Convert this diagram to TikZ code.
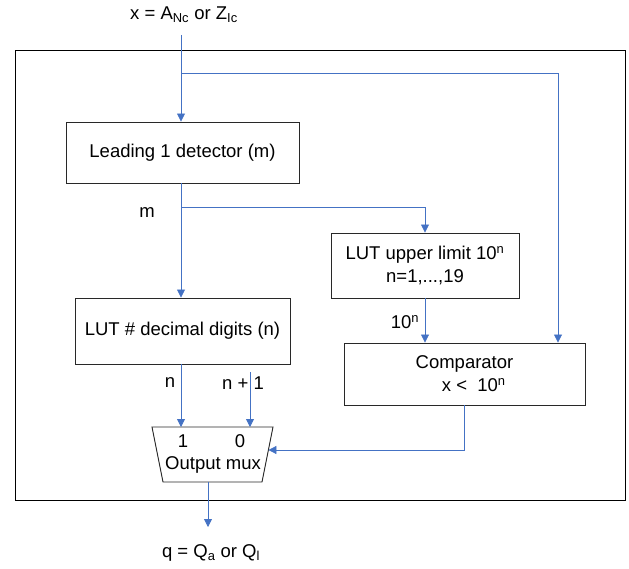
\documentclass[tikz,border=0pt]{standalone}
\usepackage{fontspec}
\setmainfont{Liberation Sans}
\usetikzlibrary{arrows.meta}

\definecolor{wire}{RGB}{68,114,196}
\tikzset{every picture/.style={line width=0.75pt}}
\tikzset{
  blk/.style={draw={rgb,255:red,40;green,40;blue,40},line width=0.9pt,align=center,inner sep=0pt},
  lbl/.style={align=center,inner sep=0pt},
  sig/.style={draw=wire,line width=0.8pt,-{Triangle[length=8pt,width=8pt]}}
}

\begin{document}
\begin{tikzpicture}[x=1pt,y=1pt,yscale=-1,xscale=1,font=\fontsize{18.5}{23}\selectfont]
		\useasboundingbox (0,0) rectangle (629,569);

		%outer frame
		\draw [line width=0.9pt] (15,50) rectangle (625,500);

		%blocks
		\node [blk,minimum width=233,minimum height=61] (lead) at (182.5,152.5) {Leading 1 detector (m)};
		\node [blk,minimum width=188,minimum height=65] (upper) at (425,265.5) {LUT upper limit 10\textsuperscript{n}\\n=1,...,19};
		\node [blk,minimum width=215,minimum height=66] (digits) at (182.5,331) {LUT \# decimal digits (n)};
		\node [blk,minimum width=241,minimum height=62] (cmp) at (464.5,374) {Comparator\\\quad x <\ \ 10\textsuperscript{n}};

		%output mux
		\coordinate (muxtl) at (152,427);
		\coordinate (muxtr) at (273,427);
		\coordinate (muxbr) at (262,482);
		\coordinate (muxbl) at (163,482);
		\draw [draw={rgb,255:red,40;green,40;blue,40},line width=0.9pt] (muxtl) -- (muxtr) -- (muxbr) -- (muxbl) -- cycle;
		\coordinate (muxin) at (268.4,450);
		\coordinate (muxout) at (208,482);

		%texts
		\node [lbl] (xin) at (184,15) {x = A\textsubscript{Nc} or Z\textsubscript{Ic}};
		\node [lbl] (qout) at (211,553) {q = Q\textsubscript{a} or Q\textsubscript{l}};
		\node [lbl] (mtxt) at (147,213) {m};
		\node [lbl] (pow) at (405,322) {10\textsuperscript{n}};
		\node [lbl] (ntxt) at (170,383) {n};
		\node [lbl] (n1txt) at (243,383) {n + 1};
		\node [lbl] (one) at (183,441) {1};
		\node [lbl] (zero) at (240,441) {0};
		\node [lbl] (muxtxt) at (213,465) {Output mux};

		%junctions
		\coordinate (xtop) at (181,35);
		\coordinate (xsplit) at (181,73);
		\coordinate (msplit) at (181,207);
		\coordinate (n1top) at (250,372);
		\coordinate (qend) at (208,527);

		%wires
		\draw [sig] (xtop) -- (lead.north -| xtop);
		\draw [sig] (xsplit) -| (cmp.north -| 558,0);
		\draw [sig] (lead.south -| msplit) -- (digits.north -| msplit);
		\draw [sig] (msplit) -| (upper.north);
		\draw [sig] (upper.south) -- (cmp.north -| upper.south);
		\draw [sig] (digits.south -| msplit) -- (muxtl -| msplit);
		\draw [sig] (n1top) -- (muxtl -| n1top);
		\draw [sig] (cmp.south) |- (muxin);
		\draw [sig] (muxout) -- (qend);

		\end{tikzpicture}
\end{document}
